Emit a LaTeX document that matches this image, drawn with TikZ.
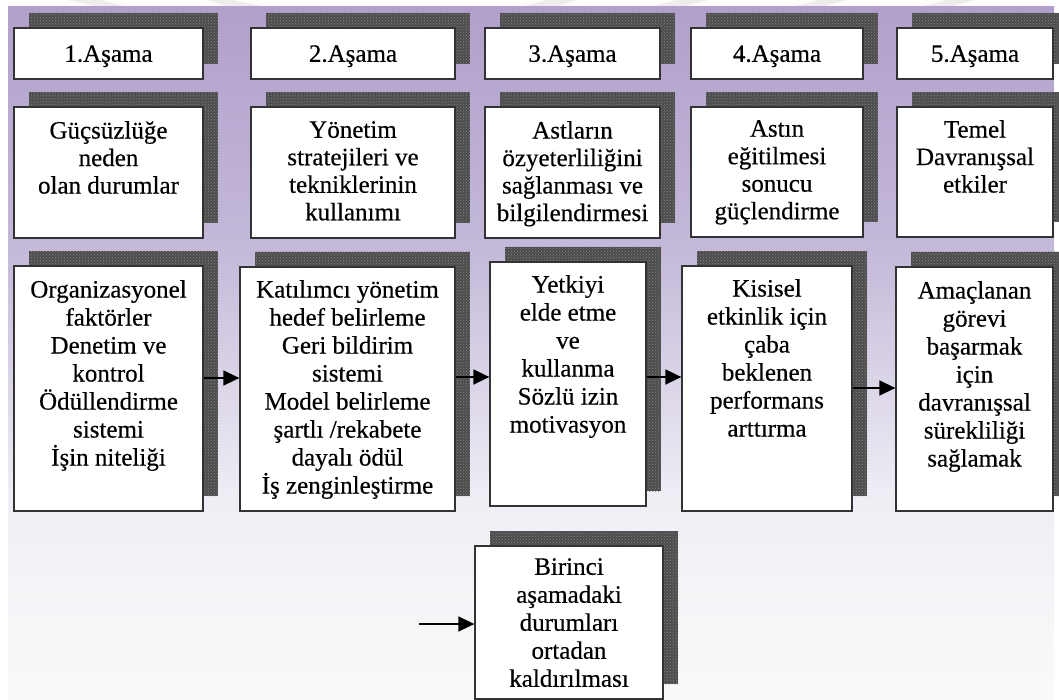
\documentclass[tikz,border=0pt]{standalone}
\usepackage{fontspec}
\setmainfont{Liberation Serif}
\newfontfamily\boxfont{Liberation Serif}[FakeBold=0.4]
\usetikzlibrary{arrows.meta,patterns}
\definecolor{bgA}{RGB}{177,160,203}
\definecolor{bgB}{RGB}{196,185,217}
\definecolor{bgC}{RGB}{240,238,245}
\definecolor{bgD}{RGB}{250,250,250}
\definecolor{wm}{RGB}{237,237,237}
\tikzset{
  boxst/.style={draw=black!80, line width=1.3pt, fill=white, inner sep=0pt},
  shadowst/.style={fill=black!70},
  shadowdots/.style={pattern=crosshatch dots, pattern color=black!48},
  txt/.style={font=\boxfont\fontsize{25}{28}\selectfont, align=center, inner sep=0pt, anchor=north, execute at begin node=\strut},
  flow/.style={line width=1.6pt, -{Triangle[length=16pt,width=15pt]}},
  mark wm/.style={fill=wm},
}
\newcommand\shbox[5]{%
  \fill[shadowst] (#2+15,#3-15) rectangle (#4+15,#5-15);
  \fill[shadowdots] (#2+15,#3-15) rectangle (#4+15,#5-15);
  \node[boxst, minimum width={#4-#2}, minimum height={#5-#3}] (#1) at ({(#2+#4)/2},{(#3+#5)/2}) {};
}
\begin{document}
\begin{tikzpicture}[x=1pt,y=-1pt]
\useasboundingbox (0,0) rectangle (1059,700);
\fill[white] (0,0) rectangle (1059,700);
% faint watermark strokes at the top
\fill[mark wm] (68,0) -- (101,0) -- (128,7) -- (98,7) -- cycle;
\fill[mark wm] (206,0) -- (233,0) -- (267,7) -- (230,7) -- cycle;
\fill[mark wm] (547,0) -- (578,0) -- (554,7) -- (520,7) -- cycle;
\fill[mark wm] (676,0) -- (709,0) -- (682,7) -- (649,7) -- cycle;
\fill[mark wm] (818,0) -- (848,0) -- (821,7) -- (791,7) -- cycle;
\fill[mark wm] (946,0) -- (976,0) -- (949,7) -- (919,7) -- cycle;
% background
\shade[top color=bgA, bottom color=bgB] (8,7) rectangle (1054,250.5);
\shade[top color=bgB, bottom color=bgC] (8,250) rectangle (1054,500.5);
\shade[top color=bgC, bottom color=bgD] (8,500) rectangle (1054,700);
% header row
\shbox{h1}{14}{28}{203}{79}
\shbox{h2}{251}{28}{455}{79}
\shbox{h3}{485}{28}{660}{79}
\shbox{h4}{691}{28}{863}{79}
\shbox{h5}{897}{28}{1053}{79}
% second row
\shbox{m1}{14}{107}{203}{238}
\shbox{m2}{251}{107}{455}{238}
\shbox{m3}{485}{107}{660}{238}
\shbox{m4}{691}{107}{863}{237}
\shbox{m5}{897}{107}{1053}{237}
% third row
\shbox{b1}{14}{266}{203}{511}
\shbox{b2}{240}{267}{455}{511}
\shbox{b3}{490}{262}{646}{506}
\shbox{b4}{682}{266}{852}{511}
\shbox{b5}{896}{267}{1053}{511}
% bottom
\shbox{b6}{475}{546}{663}{699}
% texts
\node[txt] (th1) at (h1.center |- 0,42) {1.Aşama};
\node[txt] (th2) at (h2.center |- 0,42) {2.Aşama};
\node[txt] (th3) at (h3.center |- 0,42) {3.Aşama};
\node[txt] (th4) at (h4.center |- 0,42) {4.Aşama};
\node[txt] (th5) at (h5.center |- 0,42) {5.Aşama};
\node[txt, font=\boxfont\fontsize{25}{27.5}\selectfont] (tm1) at (m1.center |- 0,121) {Güçsüzlüğe\\neden\\olan durumlar};
\node[txt, font=\boxfont\fontsize{25}{27.5}\selectfont] (tm2) at (m2.center |- 0,121) {Yönetim\\stratejileri ve\\tekniklerinin\\kullanımı};
\node[txt, font=\boxfont\fontsize{25}{27.5}\selectfont] (tm3) at (m3.center |- 0,121) {Astların\\özyeterliliğini\\sağlanması ve\\bilgilendirmesi};
\node[txt, font=\boxfont\fontsize{25}{27.5}\selectfont] (tm4) at (m4.center |- 0,120) {Astın\\eğitilmesi\\sonucu\\güçlendirme};
\node[txt, font=\boxfont\fontsize{25}{27.5}\selectfont] (tm5) at (m5.center |- 0,120) {Temel\\Davranışsal\\etkiler};
\node[txt] (tb1) at (b1.center |- 0,280) {Organizasyonel\\faktörler\\Denetim ve\\kontrol\\Ödüllendirme\\sistemi\\İşin niteliği};
\node[txt] (tb2) at (b2.center |- 0,280) {Katılımcı yönetim\\hedef belirleme\\Geri bildirim\\sistemi\\Model belirleme\\şartlı /rekabete\\dayalı ödül\\İş zenginleştirme};
\node[txt] (tb3) at (b3.center |- 0,275) {Yetkiyi\\elde etme\\ve\\kullanma\\Sözlü izin\\motivasyon};
\node[txt] (tb4) at (b4.center |- 0,279) {Kisisel\\etkinlik için\\çaba\\beklenen\\performans\\arttırma};
\node[txt] (tb5) at (b5.center |- 0,281) {Amaçlanan\\görevi\\başarmak\\için\\davranışsal\\sürekliliği\\sağlamak};
\node[txt] (tb6) at (b6.center |- 0,558) {Birinci\\aşamadaki\\durumları\\ortadan\\kaldırılması};
% arrows
\coordinate (y1) at (0,378);
\coordinate (y2) at (0,377);
\coordinate (y4) at (0,388);
\coordinate (s6) at (419,624);
\draw[flow] (b1.east |- y1) -- (b2.west |- y1);
\draw[flow] (b2.east |- y2) -- (b3.west |- y2);
\draw[flow] (b3.east |- y2) -- (b4.west |- y2);
\draw[flow] (b4.east |- y4) -- (b5.west |- y4);
\draw[flow] (s6) -- (b6.west |- s6);
\end{tikzpicture}
\end{document}
